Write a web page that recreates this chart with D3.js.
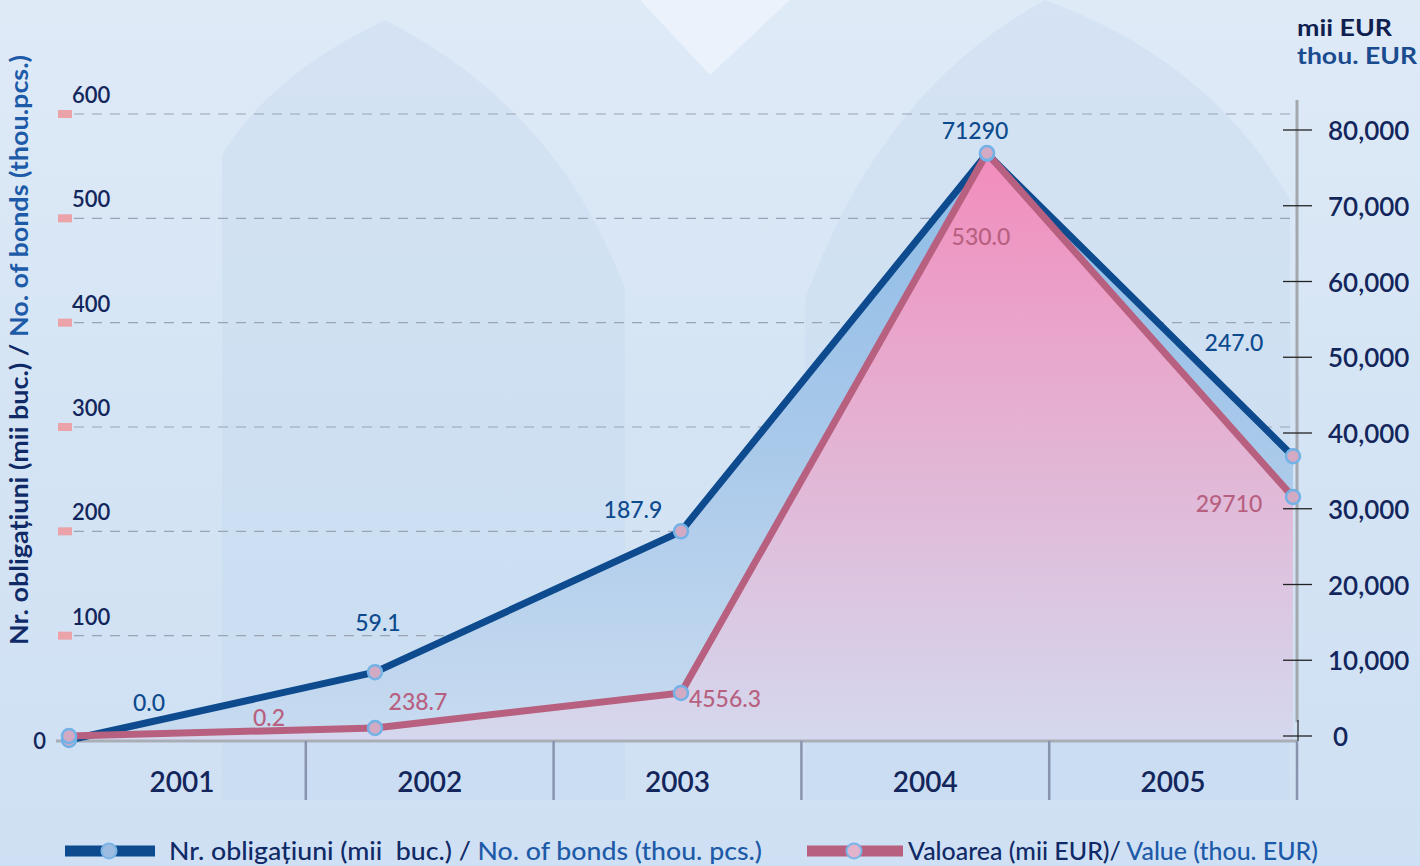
<!DOCTYPE html>
<html><head><meta charset="utf-8">
<script src="https://cdn.jsdelivr.net/npm/d3@7"></script>
<style>body{margin:0;background:#d6e5f5}svg{display:block}text{font-family:Lato,"Open Sans",sans-serif}</style>
</head><body><svg id="c" width="1420" height="866"></svg>
<script>
// ---- data ----
const years = ["2001", "2002", "2003", "2004", "2005"];
// number of bonds (left axis, thou. pcs.) as plotted
const bondsValues = [0, 65, 200, 562, 272];
// value (right axis, thou. EUR) as plotted
const valueValues = [0, 1060, 5680, 76960, 31550];
// data labels as printed on the chart
const bondsLabels = ["0.0", "59.1", "187.9", "71290", "247.0"];
const valueLabels = ["0.2", "238.7", "4556.3", "530.0", "29710"];
const leftTicks = [0, 100, 200, 300, 400, 500, 600];
const rightTicks = [0, 10000, 20000, 30000, 40000, 50000, 60000, 70000, 80000];
const leftTitle = ["Nr. obligațiuni (mii buc.) / ", "No. of bonds (thou.pcs.)"];
const rightTitle = ["mii EUR", "thou. EUR"];
const legendBonds = ["Nr. obligațiuni (mii  buc.) / ", "No. of bonds (thou. pcs.)"];
const legendValue = ["Valoarea (mii EUR)/ ", "Value (thou. EUR)"];

// ---- label placement (style) ----
const bondsLabelOffsets = [[80, -29], [3, -41], [-48, -13], [-12, -15], [-59, -105]];
const valueLabelOffsets = [[200, -10], [43, -18], [44, 14], [-6, 92], [-64, 15]];

const NAVY = "#13265c", BLUE = "#0d4a8e", BLUE2 = "#1d5aa8", PINK = "#b8607f";

const svg = d3.select("#c");
const defs = svg.append("defs");
function grad(id, y1, y2, stops) {
  const g = defs.append("linearGradient").attr("id", id)
    .attr("gradientUnits", "userSpaceOnUse").attr("x1", 0).attr("x2", 0).attr("y1", y1).attr("y2", y2);
  stops.forEach(s => g.append("stop").attr("offset", s[0]).attr("stop-color", s[1]));
}
grad("bg", 0, 866, [[0, "#dfeaf7"], [0.5, "#d4e4f4"], [1, "#cfe0f4"]]);
grad("blueA", 150, 741, [[0, "#8dbbe6"], [0.5, "#a9c9ea"], [1, "#c8dbf0"]]);
grad("pinkA", 150, 741, [[0, "#f28cbd"], [0.45, "#e5b0d1"], [1, "#d4d8ee"]]);

// background
svg.append("rect").attr("width", 1420).attr("height", 866).attr("fill", "url(#bg)");
svg.append("path").attr("d", "M222,800 L222,155 Q270,75 385,20 Q560,110 625,290 L625,800 Z")
  .attr("fill", "#c3d8ef").attr("opacity", 0.35);
svg.append("path").attr("d", "M805,800 L805,300 Q880,90 1045,0 Q1210,60 1290,200 L1290,800 Z")
  .attr("fill", "#c3d8ef").attr("opacity", 0.35);
svg.append("path").attr("d", "M640,0 L710,75 L790,0 Z").attr("fill", "#eef4fb").attr("opacity", 0.8);

// ---- scales ----
const xPoint = d3.scalePoint().domain(years).range([69, 1293]);
const xBand = d3.scaleBand().domain(years).range([58, 1297]);
const yLeft = d3.scaleLinear().domain([0, 600]).range([740, 114]);
const yRight = d3.scaleLinear().domain([0, 80000]).range([736, 130]);
const base = yLeft(0) + 1;

// gridlines + left ticks
const gl = svg.append("g");
leftTicks.filter(t => t > 0).forEach(t => {
  gl.append("line").attr("x1", 74).attr("x2", 1290).attr("y1", yLeft(t)).attr("y2", yLeft(t))
    .attr("stroke", "#98a4b6").attr("stroke-width", 1.2).attr("stroke-dasharray", "10,8");
  gl.append("rect").attr("x", 58).attr("y", yLeft(t) - 4).attr("width", 14).attr("height", 8).attr("fill", "#eba2a8");
  gl.append("text").attr("x", 72).attr("y", yLeft(t) - 11).attr("font-size", 22).attr("font-weight", 600)
    .attr("fill", NAVY).text(t);
});
gl.append("text").attr("x", 46).attr("y", yLeft(0)).attr("text-anchor", "end").attr("dominant-baseline", "central")
  .attr("font-size", 22).attr("font-weight", 600).attr("fill", NAVY).text("0");

// areas
const idx = d3.range(years.length);
svg.append("path").datum(idx).attr("fill", "url(#blueA)")
  .attr("d", d3.area().x(i => xPoint(years[i])).y0(base).y1(i => yLeft(bondsValues[i])));
svg.append("path").datum(idx).attr("fill", "url(#pinkA)")
  .attr("d", d3.area().x(i => xPoint(years[i])).y0(base).y1(i => yRight(valueValues[i])));

// x axis
svg.append("line").attr("x1", 56).attr("x2", 1297).attr("y1", base).attr("y2", base)
  .attr("stroke", "#a9aeb6").attr("stroke-width", 3);
years.forEach((y, i) => {
  const x1 = xBand(y) + xBand.bandwidth();
  svg.append("line").attr("x1", x1).attr("x2", x1).attr("y1", base).attr("y2", 800)
    .attr("stroke", "#8a93ad").attr("stroke-width", 2.5);
  svg.append("text").attr("x", xBand(y) + xBand.bandwidth() / 2).attr("y", 792).attr("text-anchor", "middle")
    .attr("font-size", 28).attr("font-weight", 600).attr("fill", NAVY).text(y);
});

// right axis
svg.append("line").attr("x1", 1297).attr("x2", 1297).attr("y1", 100).attr("y2", 722)
  .attr("stroke", "#a3a7ae").attr("stroke-width", 3);
svg.append("line").attr("x1", 1298).attr("x2", 1298).attr("y1", 720).attr("y2", base)
  .attr("stroke", "#222").attr("stroke-width", 1.2);
rightTicks.forEach(t => {
  svg.append("line").attr("x1", 1283).attr("x2", 1312).attr("y1", yRight(t)).attr("y2", yRight(t))
    .attr("stroke", "#222").attr("stroke-width", 1.3);
  svg.append("text").attr("x", t === 0 ? 1333 : 1328).attr("y", yRight(t)).attr("dominant-baseline", "central")
    .attr("font-size", 26).attr("font-weight", 600).attr("fill", NAVY).text(d3.format(",")(t));
});
svg.append("text").attr("x", 1297).attr("y", 36).attr("font-size", 22).attr("font-weight", 700)
  .attr("fill", "#0f1f4f").attr("textLength", 95).attr("lengthAdjust", "spacingAndGlyphs").text(rightTitle[0]);
svg.append("text").attr("x", 1297).attr("y", 64).attr("font-size", 22).attr("font-weight", 700)
  .attr("fill", "#1a4b8f").attr("textLength", 120).attr("lengthAdjust", "spacingAndGlyphs").text(rightTitle[1]);

// left title
const lt = svg.append("text").attr("transform", "translate(28,350) rotate(-90)").attr("text-anchor", "middle")
  .attr("font-size", 24).attr("font-weight", 700).attr("textLength", 590).attr("lengthAdjust", "spacingAndGlyphs");
lt.append("tspan").attr("fill", "#0f2a66").text(leftTitle[0]);
lt.append("tspan").attr("fill", BLUE2).text(leftTitle[1]);

// lines
const line = (vals, sc) => d3.line().x(i => xPoint(years[i])).y(i => sc(vals[i]));
svg.append("path").datum(idx).attr("fill", "none").attr("stroke", BLUE).attr("stroke-width", 7)
  .attr("stroke-linejoin", "miter").attr("d", line(bondsValues, yLeft));
svg.append("path").datum(idx).attr("fill", "none").attr("stroke", PINK).attr("stroke-width", 7)
  .attr("stroke-linejoin", "miter").attr("d", line(valueValues, yRight));

// markers
function marker(x, y) {
  svg.append("circle").attr("cx", x).attr("cy", y).attr("r", 7)
    .attr("fill", "#d2aac4").attr("stroke", "#72b2e6").attr("stroke-width", 2.5);
}
idx.forEach(i => marker(xPoint(years[i]), yLeft(bondsValues[i])));
idx.forEach(i => marker(xPoint(years[i]), yRight(valueValues[i])));

// data labels
idx.forEach(i => {
  svg.append("text").attr("x", xPoint(years[i]) + bondsLabelOffsets[i][0])
    .attr("y", yLeft(bondsValues[i]) + bondsLabelOffsets[i][1]).attr("text-anchor", "middle")
    .attr("font-size", 23).attr("font-weight", 500).attr("fill", BLUE).text(bondsLabels[i]);
  svg.append("text").attr("x", xPoint(years[i]) + valueLabelOffsets[i][0])
    .attr("y", yRight(valueValues[i]) + valueLabelOffsets[i][1]).attr("text-anchor", "middle")
    .attr("font-size", 23).attr("font-weight", 500).attr("fill", PINK).text(valueLabels[i]);
});

// legend
function legend(x0, x1, cx, color, cfill, tx, tw, parts) {
  svg.append("line").attr("x1", x0).attr("x2", x1).attr("y1", 851).attr("y2", 851)
    .attr("stroke", color).attr("stroke-width", 11);
  svg.append("circle").attr("cx", cx).attr("cy", 851).attr("r", 7.5).attr("fill", cfill)
    .attr("stroke", "#7ab4e6").attr("stroke-width", 2);
  const t = svg.append("text").attr("x", tx).attr("y", 860).attr("font-size", 25).attr("font-weight", 500)
    .attr("textLength", tw).attr("lengthAdjust", "spacingAndGlyphs");
  t.append("tspan").attr("fill", "#0f2a66").attr("xml:space", "preserve").text(parts[0]);
  t.append("tspan").attr("fill", BLUE2).text(parts[1]);
}
legend(65, 155, 109, BLUE, "#9dbde0", 169, 593, legendBonds);
legend(807, 903, 854, PINK, "#e2b4cc", 908, 410, legendValue);
</script></body></html>
